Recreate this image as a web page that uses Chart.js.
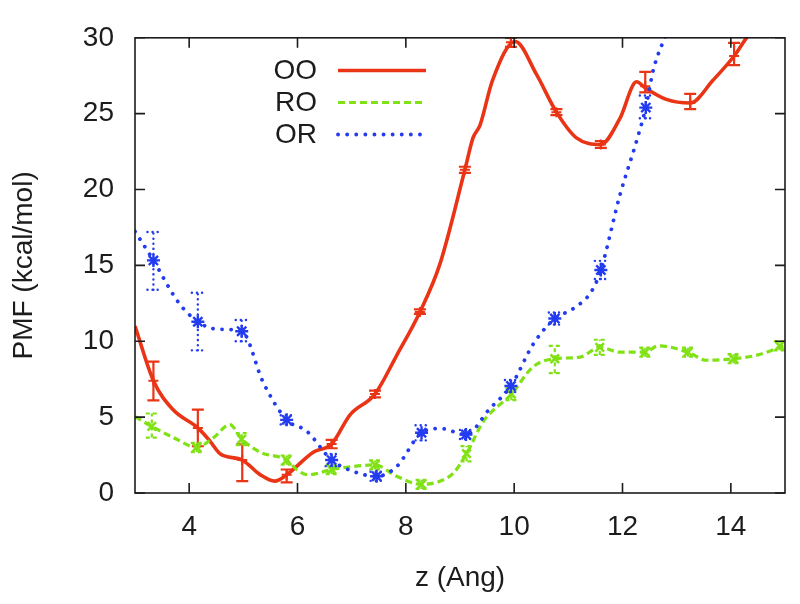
<!DOCTYPE html>
<html><head><meta charset="utf-8">
<script src="https://cdn.jsdelivr.net/npm/chart.js@4/dist/chart.umd.min.js"></script>
<style>html,body{margin:0;padding:0;background:#fff}#wrap{width:800px;height:604px}</style>
</head><body><div id="wrap"><canvas id="c" width="800" height="604"></canvas></div>
<script>
// ---- data ----
const xTicks = [4, 6, 8, 10, 12, 14];
const yTicks = [0, 5, 10, 15, 20, 25, 30];
const seriesNames = ['OO', 'RO', 'OR'];

// OO (red, solid)
const ooCurveZ   = [3.0, 3.34, 3.7, 4.16, 4.38, 4.57, 4.98, 5.31, 5.58, 5.8, 6.29, 6.63, 6.97, 7.43, 7.83, 8.26, 8.63, 9.09, 9.24, 9.37, 9.6, 10.02, 10.41, 10.78, 11.15, 11.6, 11.95, 12.26, 12.42, 12.81, 13.25, 13.67, 14.06, 14.29, 14.5];
const ooCurvePMF = [11.0, 7.4, 5.5, 4.29, 3.44, 2.59, 2.17, 1.21, 0.78, 1.2, 2.69, 3.23, 5.15, 6.52, 9.06, 11.93, 15.1, 21.3, 23.4, 24.25, 27.2, 29.76, 27.6, 25.1, 23.4, 22.97, 24.67, 27.1, 26.7, 25.94, 25.7, 27.2, 28.8, 30.0, 30.9];
const ooPointZ   = [3.34, 4.16, 4.98, 5.8, 6.63, 7.43, 8.26, 9.09, 9.94, 10.78, 11.6, 12.42, 13.25, 14.06];
const ooPointPMF = [7.4, 4.29, 2.17, 1.2, 3.23, 6.52, 11.93, 21.3, 29.7, 25.1, 22.97, 26.8, 25.7, 28.8];
const ooErrLow   = [6.1, 3.08, 0.78, 0.7, 2.95, 6.3, 11.8, 21.1, 29.4, 24.9, 22.75, 26.4, 25.3, 28.2];
const ooErrHigh  = [8.66, 5.5, 3.2, 1.55, 3.5, 6.75, 12.1, 21.5, 30.0, 25.3, 23.2, 27.75, 26.3, 29.66];

// RO (green, dashed)
const roCurveZ   = [3.0, 3.31, 3.71, 4.14, 4.45, 4.75, 4.97, 5.31, 5.8, 6.0, 6.2, 6.63, 7.0, 7.43, 7.83, 8.29, 8.63, 8.88, 9.12, 9.43, 9.95, 10.35, 10.75, 11.22, 11.58, 11.95, 12.42, 12.66, 13.21, 13.55, 14.05, 14.5, 14.97];
const roCurvePMF = [5.03, 4.39, 3.65, 3.01, 3.65, 4.5, 3.55, 2.69, 2.17, 1.5, 1.2, 1.55, 1.74, 1.85, 1.1, 0.57, 0.78, 1.32, 2.59, 4.71, 6.52, 8.32, 8.85, 8.96, 9.6, 9.28, 9.28, 9.7, 9.28, 8.75, 8.85, 9.1, 9.7];
const roPointZ   = [3.31, 4.14, 4.97, 5.8, 6.63, 7.43, 8.29, 9.12, 9.95, 10.75, 11.58, 12.42, 13.21, 14.05, 14.9];
const roPointPMF = [4.39, 3.01, 3.55, 2.17, 1.55, 1.85, 0.57, 2.59, 6.52, 8.85, 9.6, 9.28, 9.28, 8.85, 9.7];
const roErrLow   = [3.65, 2.7, 3.15, 1.87, 1.25, 1.55, 0.27, 2.09, 6.12, 7.9, 9.1, 8.98, 8.98, 8.55, 9.4];
const roErrHigh  = [5.24, 3.31, 3.95, 2.47, 1.85, 2.15, 0.87, 3.09, 6.92, 9.7, 10.1, 9.58, 9.58, 9.15, 10.0];

// OR (blue, dotted)
const orCurveZ   = [3.0, 3.34, 3.8, 4.16, 4.51, 4.97, 5.37, 5.8, 6.17, 6.63, 7.03, 7.46, 7.83, 8.29, 8.63, 9.11, 9.55, 9.94, 10.35, 10.75, 11.09, 11.43, 11.6, 11.95, 12.26, 12.43, 12.57, 12.78, 12.9];
const orCurvePMF = [17.24, 15.33, 12.57, 11.29, 10.8, 10.66, 7.26, 4.82, 4.08, 2.17, 1.42, 1.1, 1.74, 3.97, 4.25, 3.86, 5.56, 7.05, 9.8, 11.5, 12.15, 13.3, 14.7, 19.6, 23.2, 25.4, 27.9, 30.0, 31.0];
const orPointZ   = [3.34, 4.16, 4.97, 5.8, 6.63, 7.46, 8.29, 9.11, 9.94, 10.75, 11.6, 12.43];
const orPointPMF = [15.33, 11.29, 10.66, 4.82, 2.17, 1.1, 3.97, 3.86, 7.05, 11.5, 14.7, 25.4];
const orErrLow   = [13.4, 9.4, 10.0, 4.52, 1.77, 0.8, 3.47, 3.56, 6.65, 11.1, 14.1, 24.7];
const orErrHigh  = [17.2, 13.2, 11.4, 5.12, 2.57, 1.4, 4.47, 4.16, 7.45, 11.9, 15.3, 26.2];

// ---- helpers ----
const zip = (xs, ys) => xs.map((v, i) => ({x: v, y: ys[i]}));
const RED = 'rgb(234,52,22)', GREEN = 'rgb(128,226,20)', BLUE = 'rgb(36,60,240)';
const FONT = "'Liberation Sans', Arial, Helvetica, sans-serif";
const INK = '#1c1c1c';

const errorBars = {
  id: 'errorBars',
  afterDatasetDraw(chart, args) {
    const ds = chart.data.datasets[args.index];
    if (!ds.errLow) return;
    const {ctx, chartArea: a, scales: {x, y}} = chart;
    ctx.save();
    ctx.beginPath(); ctx.rect(a.left, a.top, a.right - a.left, a.bottom - a.top); ctx.clip();
    ctx.strokeStyle = ds.borderColor;
    ctx.lineWidth = ds.errWidth;
    ctx.lineCap = ds.errCap || 'butt';
    ctx.setLineDash(ds.errDash || []);
    const cap = 6;
    ds.data.forEach((p, i) => {
      const px = x.getPixelForValue(p.x);
      const lo = y.getPixelForValue(ds.errLow[i]);
      const hi = y.getPixelForValue(ds.errHigh[i]);
      ctx.beginPath();
      ctx.moveTo(px, lo); ctx.lineTo(px, hi);
      ctx.moveTo(px - cap, lo); ctx.lineTo(px + cap, lo);
      ctx.moveTo(px - cap, hi); ctx.lineTo(px + cap, hi);
      ctx.stroke();
    });
    ctx.restore();
  }
};

const frame = {
  id: 'frame',
  afterDraw(chart) {
    const {ctx, chartArea: a, scales: {x, y}} = chart;
    ctx.save();
    ctx.strokeStyle = INK; ctx.lineWidth = 1.6; ctx.setLineDash([]);
    ctx.strokeRect(a.left, a.top, a.right - a.left, a.bottom - a.top);
    const L = 10;
    ctx.beginPath();
    x.ticks.forEach(t => {
      const px = x.getPixelForValue(t.value);
      ctx.moveTo(px, a.bottom); ctx.lineTo(px, a.bottom - L);
      ctx.moveTo(px, a.top); ctx.lineTo(px, a.top + L);
    });
    y.ticks.forEach(t => {
      const py = y.getPixelForValue(t.value);
      ctx.moveTo(a.left, py); ctx.lineTo(a.left + L, py);
      ctx.moveTo(a.right, py); ctx.lineTo(a.right - L, py);
    });
    ctx.stroke();
    // legend (gnuplot style: text then sample)
    ctx.font = '28px ' + FONT;
    ctx.fillStyle = INK;
    ctx.textAlign = 'right';
    ctx.textBaseline = 'middle';
    const curves = chart.data.datasets.filter(d => d.isCurve);
    curves.forEach((d, i) => {
      const ly = 70.5 + i * 32;
      ctx.fillText(d.label, 317, ly + 1);
      ctx.beginPath();
      ctx.strokeStyle = d.borderColor;
      ctx.lineWidth = d.borderWidth;
      ctx.lineCap = d.borderCapStyle || 'butt';
      ctx.setLineDash(d.borderDash || []);
      ctx.moveTo(338, ly); ctx.lineTo(426, ly);
      ctx.stroke();
    });
    ctx.restore();
  }
};

const curveStyles = [
  {color: RED, width: 3.6, dash: [], cap: 'butt', order: 6},
  {color: GREEN, width: 3.2, dash: [7, 4], cap: 'butt', order: 4},
  {color: BLUE, width: 3.8, dash: [0.1, 9], cap: 'round', order: 2}
];
const curveData = [zip(ooCurveZ, ooCurvePMF), zip(roCurveZ, roCurvePMF), zip(orCurveZ, orCurvePMF)];
const pointData = [zip(ooPointZ, ooPointPMF), zip(roPointZ, roPointPMF), zip(orPointZ, orPointPMF)];
const errLows = [ooErrLow, roErrLow, orErrLow];
const errHighs = [ooErrHigh, roErrHigh, orErrHigh];
const markerStyles = [
  {style: 'cross', r: 5, bw: 2, errW: 2.2, errDash: [], errCap: 'butt'},
  {style: 'crossRot', r: 6, bw: 2.6, errW: 2.2, errDash: [4, 3], errCap: 'butt'},
  {style: 'star', r: 6.5, bw: 2.4, errW: 2.4, errDash: [0.1, 5], errCap: 'round'}
];

const datasets = [];
seriesNames.forEach((name, i) => {
  const s = curveStyles[i], m = markerStyles[i];
  datasets.push({
    label: name, isCurve: true, data: curveData[i],
    borderColor: s.color, backgroundColor: s.color, borderWidth: s.width,
    borderDash: s.dash, borderCapStyle: s.cap, pointRadius: 0,
    cubicInterpolationMode: 'monotone', fill: false, order: s.order + 1
  });
  datasets.push({
    label: name + ' points', data: pointData[i], showLine: false,
    borderColor: s.color, backgroundColor: s.color,
    pointStyle: m.style, pointRadius: m.r, pointBorderWidth: m.bw,
    pointBorderColor: s.color, pointBackgroundColor: s.color,
    errLow: errLows[i], errHigh: errHighs[i], errWidth: m.errW, errDash: m.errDash, errCap: m.errCap,
    order: s.order
  });
});

new Chart(document.getElementById('c'), {
  type: 'line',
  data: {datasets},
  options: {
    responsive: false, animation: false, devicePixelRatio: 1,
    layout: {padding: {top: 23, right: 15, left: 0, bottom: 0}},
    plugins: {legend: {display: false}, tooltip: {enabled: false}},
    scales: {
      x: {
        type: 'linear', min: 3, max: 15,
        afterBuildTicks: s => { s.ticks = xTicks.map(v => ({value: v})); },
        afterFit: s => { s.height = 111; },
        grid: {display: false, drawTicks: false}, border: {display: false},
        ticks: {color: INK, font: {family: FONT, size: 28}, padding: 17, maxRotation: 0},
        title: {display: true, text: 'z (Ang)', color: INK, font: {family: FONT, size: 28}, padding: {top: 0, bottom: 9}}
      },
      y: {
        type: 'linear', min: 0, max: 30,
        afterBuildTicks: s => { s.ticks = yTicks.map(v => ({value: v})); },
        afterFit: s => { s.width = 135; },
        grid: {display: false, drawTicks: false}, border: {display: false},
        ticks: {color: INK, font: {family: FONT, size: 28}, padding: 21},
        title: {display: true, text: 'PMF (kcal/mol)', color: INK, font: {family: FONT, size: 28}, padding: {top: 7, bottom: 0}}
      }
    }
  },
  plugins: [errorBars, frame]
});
</script>
</body></html>
